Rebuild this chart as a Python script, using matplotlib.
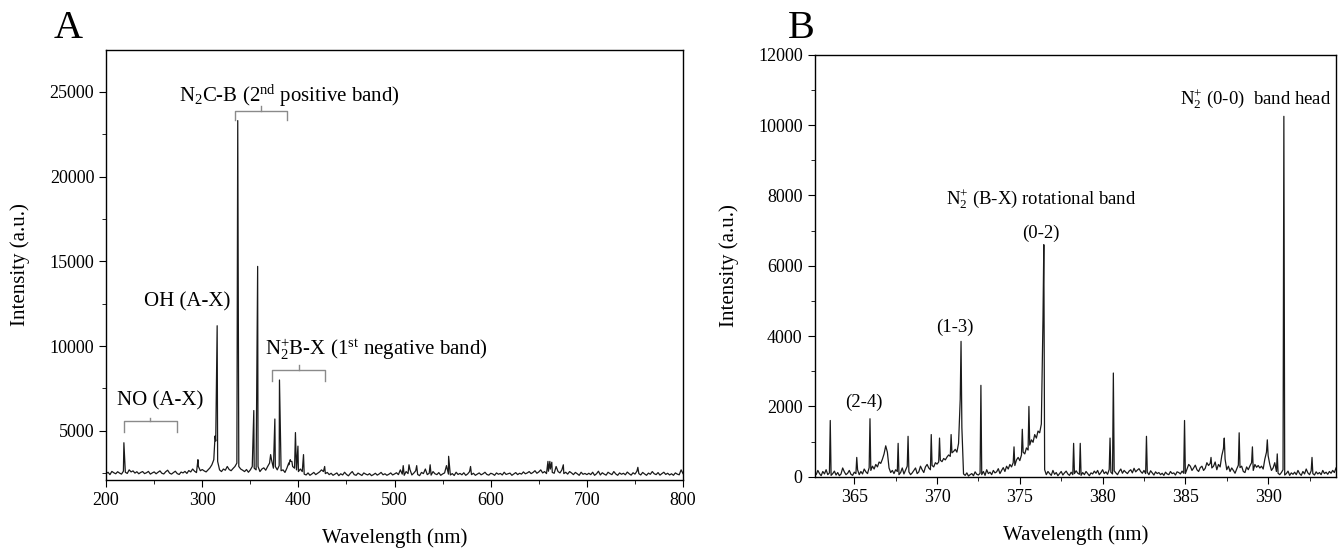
import numpy as np
import matplotlib
matplotlib.use('Agg')
import matplotlib.pyplot as plt
from matplotlib.ticker import MultipleLocator

plt.rcParams['font.family'] = ['Liberation Serif', 'DejaVu Serif']
plt.rcParams['mathtext.fontset'] = 'custom'
plt.rcParams['mathtext.rm'] = 'Liberation Serif'
plt.rcParams['mathtext.it'] = 'Liberation Serif:italic'

# ---- panel A: full spectrum, baseline sampled every 2 nm from 200 to 800
a_start, a_step = 200, 2
a_base = [
    2480, 2560, 2420, 2610, 2530, 2470, 2590, 2510, 2450, 2620,
    2560, 2490, 2700, 2580, 2640, 2510, 2590, 2470, 2550, 2600,
    2480, 2530, 2610, 2450, 2520, 2580, 2470, 2560, 2640, 2500,
    2460, 2590, 2680, 2510, 2450, 2540, 2620, 2480, 2430, 2570,
    2520, 2610, 2490, 2660, 2580, 2750, 2620, 2540, 2900, 2650,
    2720,
    2640, 2580, 2700, 2820, 3000, 3300, 4400, 3200, 2700, 2600,
    2750, 2680, 2900, 2720, 2650, 2780, 2900, 3100, 2900, 2750,
    2680, 2600, 2720, 2560, 2700, 2900, 2800, 2700, 2900, 2600,
    2750, 2820, 2680, 2900, 3100, 3300, 2800, 2900, 2700, 2950,
    2650, 2700, 2550, 2800, 3000, 3200, 2900, 2800, 2700, 2600,
    2750, 2600, 2450, 2400, 2520, 2380, 2460, 2550, 2420, 2500,
    2580, 2700, 2600, 2480, 2550, 2420, 2500, 2380, 2450, 2520,
    2360, 2470, 2400, 2560, 2430, 2350, 2490, 2600, 2420, 2380,
    2510, 2440, 2370, 2520, 2450, 2400, 2480, 2360, 2420, 2500,
    2390, 2460, 2550, 2410, 2470, 2380, 2440, 2520, 2400, 2460,
    2530, 2420, 2700, 2450, 2380, 2600, 2480, 2720, 2400, 2510,
    2650, 2430, 2360, 2550, 2480, 2750, 2420, 2500, 2390, 2600,
    2470, 2420, 2540, 2380, 2460, 2520, 2950, 2450, 2400, 2480,
    2370, 2560, 2430, 2490, 2410, 2530, 2380, 2460, 2600, 2420,
    2500, 2380, 2450, 2520, 2410, 2470, 2560, 2430, 2390, 2500,
    2460, 2380, 2520, 2440, 2490, 2400, 2560, 2430, 2470, 2510,
    2380, 2460, 2540, 2420, 2500, 2450, 2580, 2470, 2520, 2600,
    2480, 2550, 2650, 2500, 2580, 2700, 2520, 2600, 2480, 2620,
    2750, 2550, 2500, 2900, 2600, 2520, 2700, 2480, 2560, 2450,
    2600, 2520, 2420, 2550, 2470, 2380, 2560, 2440, 2490, 2420,
    2500, 2420, 2560, 2380, 2470, 2620, 2400, 2530, 2450, 2390,
    2560, 2480, 2420, 2600, 2460, 2380, 2520, 2440, 2500, 2410,
    2570, 2470, 2390, 2530, 2450, 2620, 2480, 2400, 2550, 2460,
    2380, 2510, 2440, 2600, 2470, 2420, 2540, 2390, 2480, 2560,
    2430, 2500, 2400, 2470, 2380, 2520, 2450, 2410, 2700, 2480,
]
a_peak_wl = [218.5, 295.5, 313.3, 315.5, 336.9, 353.6, 357.6, 371.1, 375.5,
             380.3, 389.9, 391.5, 393.2, 396.9, 399.5, 405.3, 427.3, 509,
             515, 523, 537, 556.2, 579, 659.5, 661.5, 663.5, 675.5, 753]
a_peak_int = [4300, 3300, 4700, 11200, 23300, 6200, 14700, 3600, 5700,
              8000, 3100, 3300, 3200, 4900, 4100, 3600, 2900, 2950,
              3000, 2950, 3000, 3500, 2900, 3200, 3200, 3150, 3000, 2850]

# ---- panel B: zoom 362.6-394.1 nm, baseline every 0.1 nm
b_start, b_step = 362.6, 0.1
b_base = [
    120, 60, 180, 90, 30, 150, 80, 200, 60, 110,
    40, 90, 160, 50, 120, 30, 80, 250, 140, 60,
    100, 180, 70, 40, 130, 90, 200, 60, 150, 80,
    220, 140, 90, 260, 180, 300, 220, 350, 280, 420,
    380, 500, 650, 880, 700, 250, 120, 180, 90, 200,
    150, 60, 120, 250, 80, 190, 300, 140, 60, 110,
    180, 250, 90, 140, 300, 200, 120, 280, 350, 250,
    200, 320, 280, 400, 360, 420, 470, 430, 520, 480,
    560, 620, 580, 680, 720, 780, 700, 950, 2200, 1400,
    80, 40, 110, 20, 60, 90, 30, 140, 70, 50,
    100, 60, 150, 40, 200, 90, 130, 60, 180, 110,
    140, 230, 90, 180, 260, 150, 300, 220, 350, 280,
    400, 320, 480, 550, 460, 620, 700, 650, 820, 760,
    900, 1050, 980, 1200, 1100, 1300, 1250, 1500, 4500, 200,
    60, 150, 90, 40, 180, 70, 120, 30, 90, 150,
    50, 110, 160, 80, 40, 130, 60, 90, 170, 100,
    70, 40, 120, 60, 150, 90, 30, 110, 80, 160,
    100, 180, 60, 120, 200, 90, 140, 70, 210, 130,
    80, 170, 110, 60, 150, 220, 100, 180, 130, 90,
    160, 200, 110, 240, 140, 190, 230, 150, 100, 180,
    90, 130, 60, 170, 110, 50, 140, 90, 120, 60,
    100, 40, 130, 80, 60, 150, 90, 110, 50, 140,
    120, 80, 160, 100, 90, 220, 350, 300, 180, 250,
    330, 200, 150, 260, 300, 180, 240, 400, 320, 380,
    250, 300, 420, 200, 350, 280, 600, 800, 500, 200,
    300, 150, 250, 180, 100, 220, 330, 260, 300, 150,
    120, 280, 200, 310, 400, 180, 350, 270, 320, 250,
    300, 220, 500, 700, 600, 350, 180, 250, 400, 150,
    100, 60, 120, 200, 50, 90, 160, 40, 110, 70,
    130, 60, 180, 90, 40, 150, 80, 220, 110, 60,
    170, 90, 50, 140, 80, 120, 60, 180, 90, 130,
    70, 150, 100, 180, 120, 250,
]
b_peak_wl = [363.55, 365.15, 365.95, 367.65, 368.25, 369.65, 370.15, 370.85,
             371.45, 372.65, 374.65, 375.15, 375.55, 376.45, 378.25, 378.65,
             380.45, 380.65, 382.65, 384.95, 386.55, 387.35, 388.25, 389.05,
             389.95, 390.55, 390.95, 392.65]
b_peak_int = [1600, 550, 1650, 950, 1150, 1200, 1100, 1200,
              3850, 2600, 850, 1350, 2000, 6600, 950, 950,
              1100, 2950, 1150, 1600, 550, 1100, 1250, 850,
              1050, 650, 10250, 550]


def spectrum(start, step, base, pk_x, pk_y):
    x = np.concatenate([start + step * np.arange(len(base)), pk_x])
    y = np.concatenate([base, pk_y])
    order = np.argsort(x)
    return x[order], y[order]


fig = plt.figure(figsize=(13.43, 5.48), dpi=100)
axA = fig.add_axes([0.079, 0.124, 0.4296, 0.785])
axB = fig.add_axes([0.6065, 0.130, 0.3883, 0.770])

xa, ya = spectrum(a_start, a_step, a_base, a_peak_wl, a_peak_int)
axA.plot(xa, ya, color='#1a1a1a', lw=0.9)
axA.set_xlim(200, 800)
axA.set_ylim(2100, 27470)
axA.xaxis.set_major_locator(MultipleLocator(100))
axA.xaxis.set_minor_locator(MultipleLocator(50))
axA.yaxis.set_major_locator(MultipleLocator(5000))
axA.yaxis.set_minor_locator(MultipleLocator(2500))
axA.set_xlabel('Wavelength (nm)', fontsize=15, labelpad=14)
axA.set_ylabel('Intensity (a.u.)', fontsize=15, labelpad=14)

# brackets marking the bands
brk = '#8a8a8a'
for x0, x1, ytop, ybot, ytick in [(333.6, 388, 23870, 23310, 24136),
                                  (373, 427.8, 8600, 7920, 8867),
                                  (218.6, 273.3, 5555, 4960, 5780)]:
    axA.plot([x0, x0, x1, x1], [ybot, ytop, ytop, ybot], color=brk, lw=1)
    xm = (x0 + x1) / 2
    axA.plot([xm, xm], [ytop, ytick], color=brk, lw=1)

axA.text(390.3, 24750, r'N$_2$C-B (2$^{\rm nd}$ positive band)', fontsize=15, ha='center', va='center')
axA.text(284.6, 12613, 'OH (A-X)', fontsize=15, ha='center', va='center')
axA.text(481.2, 9835, r'N$_2^{+}$B-X (1$^{\rm st}$ negative band)', fontsize=15, ha='center', va='center')
axA.text(256.1, 6747, 'NO (A-X)', fontsize=15, ha='center', va='center')

xb, yb = spectrum(b_start, b_step, b_base, b_peak_wl, b_peak_int)
axB.plot(xb, yb, color='#1a1a1a', lw=0.9)
axB.set_xlim(362.6, 394.1)
axB.set_ylim(0, 12000)
axB.xaxis.set_major_locator(MultipleLocator(5))
axB.xaxis.set_minor_locator(MultipleLocator(2.5))
axB.yaxis.set_major_locator(MultipleLocator(2000))
axB.yaxis.set_minor_locator(MultipleLocator(1000))
axB.set_xlabel('Wavelength (nm)', fontsize=15, labelpad=14)
axB.set_ylabel('Intensity (a.u.)', fontsize=15, labelpad=14)

axB.text(389.27, 10737, r'N$_2^{+}$ (0-0)  band head', fontsize=13.5, ha='center', va='center')
axB.text(376.3, 7900, r'N$_2^{+}$ (B-X) rotational band', fontsize=13.5, ha='center', va='center')
axB.text(376.3, 6920, '(0-2)', fontsize=13.5, ha='center', va='center')
axB.text(371.05, 4240, '(1-3)', fontsize=13.5, ha='center', va='center')
axB.text(365.6, 2120, '(2-4)', fontsize=13.5, ha='center', va='center')

for ax in (axA, axB):
    ax.tick_params(which='both', direction='out', labelsize=13, top=False, right=False)
    ax.tick_params(which='major', length=5)
    ax.tick_params(which='minor', length=3)
    for s in ax.spines.values():
        s.set_linewidth(1)

fig.text(54 / 1343, 1 - 38 / 548, 'A', fontsize=29, ha='left', va='baseline')
fig.text(788 / 1343, 1 - 38 / 548, 'B', fontsize=29, ha='left', va='baseline')

fig.savefig('out.png', dpi=100)
